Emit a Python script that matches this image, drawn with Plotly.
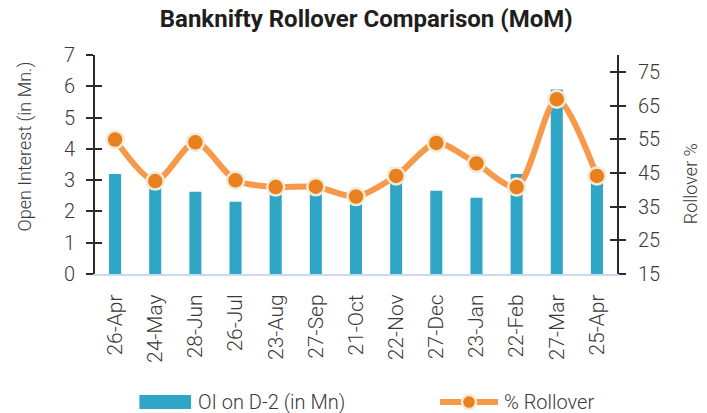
import plotly.graph_objects as go

categories = ["26-Apr", "24-May", "28-Jun", "26-Jul", "23-Aug", "27-Sep", "21-Oct",
              "22-Nov", "27-Dec", "23-Jan", "22-Feb", "27-Mar", "25-Apr"]
oi_values = [3.2, 2.9, 2.63, 2.31, 2.7, 2.7, 2.4, 3.4, 2.66, 2.44, 3.2, 5.9, 3.0]
rollover_values = [54.9, 42.6, 54.1, 42.8, 40.8, 40.9, 38.0, 44.1, 53.9, 47.8, 40.8, 66.9, 44.1]

left_ticks = [0, 1, 2, 3, 4, 5, 6, 7]
right_ticks = [15, 25, 35, 45, 55, 65, 75]

FONT = "Roboto"
TXT = "#3a3a3a"
BAR = "#2fa6c6"
LINE = "#f7994a"
DOT = "#e8801e"
RING = "#f1ead6"

fig = go.Figure()
fig.add_trace(go.Bar(x=categories, y=oi_values, name="OI on D-2 (in Mn)",
                     marker=dict(color=BAR, line=dict(width=0)), yaxis="y"))
fig.add_trace(go.Scatter(x=categories, y=rollover_values, name="% Rollover",
                         mode="lines+markers", yaxis="y2",
                         line=dict(color=LINE, width=6, shape="spline", smoothing=0.8),
                         marker=dict(color=DOT, size=17, line=dict(color=RING, width=2.5))))

axis_common = dict(showgrid=False, zeroline=False, linecolor="#2b2b2b", linewidth=2,
                   ticks="outside", ticklen=7, tickwidth=2, tickcolor="#2b2b2b",
                   automargin=False)
tick_font = dict(family=FONT, size=20, color=TXT, weight=300)

fig.update_layout(
    width=707, height=413,
    margin=dict(l=95, r=90, t=55, b=139, autoexpand=False),
    paper_bgcolor="white", plot_bgcolor="white",
    showlegend=False,
    bargap=0.7,
    title=dict(text="<b>Banknifty Rollover Comparison (MoM)</b>", x=0.518, xanchor="center",
               y=0.955, yanchor="middle",
               font=dict(family=FONT, size=24, color="#1e1e1e")),
    font=dict(family=FONT, color=TXT),
    xaxis=dict(type="category", tickangle=-90, showgrid=False, zeroline=False,
               showline=True, linecolor="#c9daf0", linewidth=2, ticks="",
               ticklabelstandoff=10,
               tickfont=dict(family=FONT, size=21, color=TXT, weight=300),
               range=[-0.5, 12.5], automargin=False),
    yaxis=dict(range=[0, 7], tickvals=left_ticks, showline=True, ticklabelstandoff=7,
               tickfont=tick_font, **axis_common),
    yaxis2=dict(range=[15, 80], tickvals=right_ticks, overlaying="y", side="right",
                showline=True, ticklabelstandoff=8, tickfont=tick_font, **axis_common),
    yaxis3=dict(range=[0, 7], tickvals=left_ticks, overlaying="y", side="left",
                showticklabels=False, showgrid=False, zeroline=False, showline=False,
                ticks="inside", ticklen=7, tickwidth=2, tickcolor="#2b2b2b", automargin=False),
    yaxis4=dict(range=[15, 80], tickvals=right_ticks, overlaying="y", side="right",
                showticklabels=False, showgrid=False, zeroline=False, showline=False,
                ticks="inside", ticklen=7, tickwidth=2, tickcolor="#2b2b2b", automargin=False),
)
# invisible traces to activate tick-only axes
fig.add_trace(go.Scatter(x=[categories[0]], y=[0], yaxis="y3", mode="markers",
                         marker=dict(opacity=0), hoverinfo="skip"))
fig.add_trace(go.Scatter(x=[categories[0]], y=[15], yaxis="y4", mode="markers",
                         marker=dict(opacity=0), hoverinfo="skip"))

# axis titles
fig.add_annotation(xref="paper", yref="paper", x=-0.135, y=0.58, text="Open Interest (in Mn.)",
                   textangle=-90, showarrow=False, xanchor="center", yanchor="middle",
                   font=dict(family=FONT, size=18, color=TXT, weight=300))
fig.add_annotation(xref="paper", yref="paper", x=1.14, y=0.41, text="Rollover %",
                   textangle=-90, showarrow=False, xanchor="center", yanchor="middle",
                   font=dict(family=FONT, size=18, color=TXT, weight=300))

# custom legend
ly = -0.585
fig.add_shape(type="rect", xref="paper", yref="paper", x0=0.085, x1=0.184,
              y0=ly - 0.032, y1=ly + 0.032, fillcolor=BAR, line=dict(width=0))
fig.add_annotation(xref="paper", yref="paper", x=0.193, y=ly, text="OI on D-2 (in Mn)",
                   showarrow=False, xanchor="left", yanchor="middle",
                   font=dict(family=FONT, size=20, color=TXT, weight=300))
fig.add_shape(type="line", xref="paper", yref="paper", x0=0.661, x1=0.772,
              y0=ly, y1=ly, line=dict(color=LINE, width=6))
fig.add_shape(type="circle", xref="paper", yref="paper", xsizemode="pixel", ysizemode="pixel",
              xanchor=0.7165, yanchor=ly, x0=-7, x1=7, y0=-7, y1=7,
              fillcolor=DOT, line=dict(color=RING, width=2.5))
fig.add_annotation(xref="paper", yref="paper", x=0.78, y=ly, text="% Rollover",
                   showarrow=False, xanchor="left", yanchor="middle",
                   font=dict(family=FONT, size=20, color=TXT, weight=300))

fig.write_html("out.html", config={"displayModeBar": False},
               post_script="document.body.style.margin='0';")
